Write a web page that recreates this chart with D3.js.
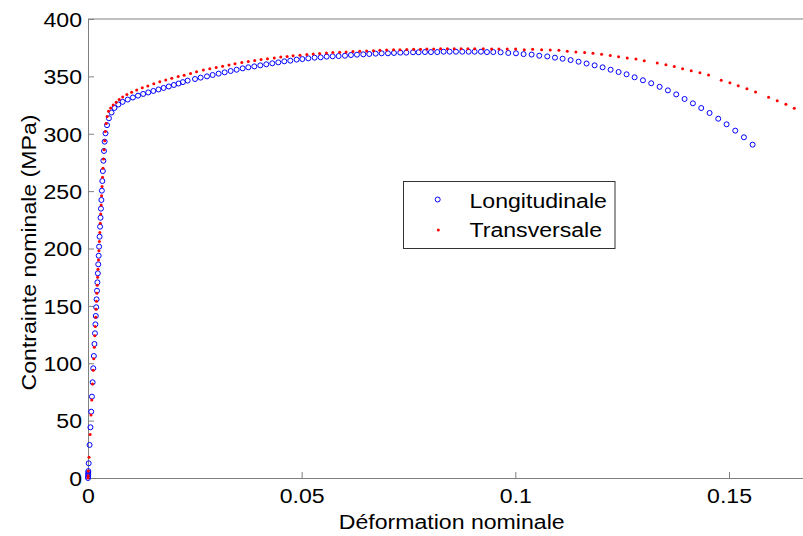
<!DOCTYPE html>
<html>
<head>
<meta charset="utf-8">
<script src="https://cdn.jsdelivr.net/npm/d3@7"></script>
<style>
  html, body { margin: 0; padding: 0; background: #fff; }
  svg { display: block; }
</style>
</head>
<body>
<script>
// ---------- data ----------
const xTicks = [0, 0.05, 0.1, 0.15];
const xTickLabels = ["0", "0.05", "0.1", "0.15"];
const yTicks = [0, 50, 100, 150, 200, 250, 300, 350, 400];
const yTickLabels = ["0", "50", "100", "150", "200", "250", "300", "350", "400"];
const xTitle = "Déformation nominale";
const yTitle = "Contrainte nominale (MPa)";
const seriesNames = ["Longitudinale", "Transversale"];

// Longitudinale (blue circles)
const longStrain = [
  0, 0.00002, 0.00004, 0.00006, 0.00008, 0.00016, 0.00037, 0.00057, 0.00075, 0.00092,
  0.00108, 0.00123, 0.00137, 0.00151, 0.00163, 0.00173, 0.00182, 0.00192, 0.00201, 0.00211,
  0.0022, 0.0023, 0.0024, 0.0025, 0.0026, 0.00271, 0.00283, 0.00293, 0.00303, 0.00313,
  0.00324, 0.00335, 0.00347, 0.0036, 0.00374, 0.0039, 0.0041, 0.00445, 0.0049, 0.0055,
  0.0062, 0.0071, 0.0081, 0.0093, 0.0105, 0.0117, 0.0129, 0.0141, 0.0153, 0.0165,
  0.0177, 0.0189, 0.0201, 0.0212, 0.0222, 0.02332, 0.02504, 0.02636, 0.02784, 0.02917,
  0.03057, 0.03198, 0.03338, 0.03478, 0.03619, 0.03751, 0.03892, 0.04032, 0.04172, 0.04313,
  0.04453, 0.04594, 0.04734, 0.04882, 0.05015, 0.05155, 0.05303, 0.05444, 0.05584, 0.05725,
  0.05865, 0.06013, 0.06153, 0.06294, 0.06442, 0.06582, 0.06731, 0.06871, 0.07019, 0.0716,
  0.07308, 0.07448, 0.07606, 0.07737, 0.07885, 0.08025, 0.08173, 0.08322, 0.08462, 0.0861,
  0.08758, 0.08907, 0.09047, 0.09195, 0.09336, 0.09484, 0.09655, 0.09835, 0.10014, 0.10193,
  0.10381, 0.1056, 0.10747, 0.10927, 0.11106, 0.11293, 0.1148, 0.11667, 0.11855, 0.12042,
  0.12229, 0.12416, 0.12603, 0.12791, 0.12986, 0.1318, 0.13376, 0.1357, 0.13765, 0.1396,
  0.14155, 0.1435, 0.14545, 0.14748, 0.14943, 0.15146, 0.15349, 0.15552
];
const longStress = [
  0, 1.5, 3, 4.5, 6, 12.8, 28.8, 44.2, 57.8, 70.9,
  83.4, 95.6, 106.3, 116.8, 126.1, 133.9, 141.2, 148.8, 155.7, 163.2,
  170.5, 178.4, 186.2, 193.7, 201.6, 210.3, 219.0, 226.8, 234.7, 242.3,
  250.4, 258.8, 267.5, 276.5, 285.0, 293.1, 300.4, 307.5, 313.5, 318.5,
  322.5, 325.5, 327.8, 329.8, 331.6, 333.2, 334.7, 336.0, 337.3, 338.6,
  339.9, 341.2, 342.5, 343.8, 345.0, 346.3, 347.7, 348.9, 350.0, 351.2,
  352.4, 353.5, 354.7, 355.8, 357.0, 357.9, 358.7, 359.6, 360.5, 361.4,
  362.2, 363.1, 363.7, 364.6, 365.1, 365.7, 366.3, 366.6, 367.2, 367.5,
  367.7, 368.0, 368.6, 368.9, 369.2, 369.5, 369.8, 370.1, 370.1, 370.4,
  370.7, 370.7, 371.0, 371.0, 371.2, 371.2, 371.2, 371.5, 371.5, 371.5,
  371.5, 371.5, 371.5, 371.5, 371.2, 371.2, 371.0, 370.4, 370.1, 369.4,
  369.0, 368.0, 367.4, 366.3, 365.4, 364.2, 362.8, 361.2, 359.6, 357.9,
  355.8, 353.8, 351.8, 349.2, 346.6, 344.0, 340.9, 337.8, 334.3, 330.3,
  326.5, 322.4, 318.1, 313.1, 308.2, 302.7, 296.9, 290.5
];

// Transversale (red dots)
const transStrain = [
  0, 0.00003, 0.00008, 0.00024, 0.0005, 0.0007, 0.00088, 0.00106, 0.00122, 0.00135,
  0.00148, 0.0016, 0.0017, 0.0018, 0.00189, 0.00198, 0.00207, 0.00216, 0.00225, 0.00234,
  0.00245, 0.00255, 0.00266, 0.00276, 0.00287, 0.00297, 0.00308, 0.00318, 0.00329, 0.0034,
  0.00351, 0.00363, 0.00376, 0.0039, 0.00406, 0.00425, 0.00448, 0.0048, 0.0053, 0.0059,
  0.0066, 0.0073, 0.0081, 0.0091, 0.0102, 0.0114, 0.0127, 0.014, 0.0154, 0.0168,
  0.0182, 0.0196, 0.0211, 0.0225, 0.024, 0.0254, 0.027, 0.0285, 0.03, 0.0315,
  0.033, 0.0344, 0.036, 0.0375, 0.039, 0.0405, 0.042, 0.0436, 0.0451, 0.0466,
  0.048, 0.0496, 0.0512, 0.0527, 0.0542, 0.0558, 0.0573, 0.0589, 0.0604, 0.062,
  0.0636, 0.0652, 0.0668, 0.0683, 0.0699, 0.0715, 0.073, 0.0746, 0.0762, 0.0778,
  0.0793, 0.0809, 0.0825, 0.0841, 0.0857, 0.0873, 0.0889, 0.0905, 0.0925, 0.09445,
  0.09616, 0.09811, 0.10006, 0.10209, 0.10404, 0.10615, 0.10817, 0.1102, 0.11215, 0.11418,
  0.11621, 0.11816, 0.12018, 0.12221, 0.12416, 0.12619, 0.12822, 0.13017, 0.13321, 0.13524,
  0.13719, 0.13914, 0.14116, 0.14319, 0.14522, 0.14818, 0.15021, 0.15216, 0.15419, 0.15622,
  0.15926, 0.16128, 0.16331, 0.16527
];
const transStress = [
  0, 2, 6, 18, 38, 55, 68, 82, 94, 104,
  114, 124, 132, 140, 147, 154, 161, 168, 175, 182,
  190, 198, 206, 214, 222, 230, 238, 246, 254, 262,
  270, 278, 286, 294, 302, 309, 315, 319.5, 322.5, 325,
  327.5, 329.8, 332, 334.2, 336.2, 338.2, 340, 341.7, 343.5, 345.3,
  346.8, 348.3, 349.8, 351, 352.5, 354, 355.5, 356.6, 357.8, 358.9,
  360, 361, 362, 363, 363.9, 364.7, 365.4, 366.1, 366.8, 367.4,
  368, 368.5, 369, 369.5, 369.9, 370.3, 370.7, 371.0, 371.3, 371.6,
  371.9, 372.2, 372.4, 372.7, 372.9, 373.1, 373.3, 373.4, 373.6, 373.7,
  373.8, 373.9, 374.0, 374.0, 374.1, 374.1, 374.1, 374.0, 374.0, 373.9,
  373.9, 373.9, 373.9, 373.3, 373.6, 373.3, 373.0, 372.7, 371.8, 371.2,
  370.7, 370.1, 369.2, 368.3, 367.2, 366.0, 365.1, 363.7, 361.7, 360.2,
  358.5, 356.7, 355.0, 353.2, 351.2, 346.6, 344.5, 341.9, 339.3, 336.4,
  331.7, 328.8, 325.6, 322.2
];

// ---------- layout ----------
const W = 803, H = 536;
const plotLeft = 88, plotTop = 19, plotBottom = 478;
const font = "'Liberation Sans', Arial, Helvetica, sans-serif";
const fs = 21, sx = 1.1;
const axisColor = "#808080";

const x = d3.scaleLinear().domain([0, 0.18]).range([plotLeft, plotLeft + 0.18 / 0.05 * 213.67]);
const y = d3.scaleLinear().domain([0, 400]).range([plotBottom, plotTop]);

const svg = d3.select("body").append("svg")
  .attr("width", W).attr("height", H)
  .attr("viewBox", `0 0 ${W} ${H}`);
svg.append("rect").attr("width", W).attr("height", H).attr("fill", "#fff");

// box top line
svg.append("line")
  .attr("x1", x(0)).attr("x2", x.range()[1])
  .attr("y1", y(400)).attr("y2", y(400))
  .attr("stroke", axisColor).attr("stroke-width", 1);

// x axis
const gx = svg.append("g").attr("transform", `translate(0,${plotBottom})`)
  .call(d3.axisBottom(x).tickValues(xTicks).tickSize(-6).tickSizeOuter(0)
    .tickFormat((d, i) => xTickLabels[i]));
gx.select(".domain").attr("stroke", axisColor);
gx.selectAll(".tick line").attr("stroke", axisColor);
gx.selectAll(".tick text")
  .attr("y", 25).attr("dy", 0)
  .attr("fill", "#000").attr("font-family", font).attr("font-size", fs)
  .attr("transform", `scale(${sx},1)`);

// y axis
const gy = svg.append("g").attr("transform", `translate(${plotLeft},0)`)
  .call(d3.axisLeft(y).tickValues(yTicks).tickSize(-6).tickSizeOuter(0)
    .tickFormat((d, i) => yTickLabels[i]));
gy.select(".domain").attr("stroke", axisColor);
gy.selectAll(".tick line").attr("stroke", axisColor);
gy.selectAll(".tick text")
  .attr("x", -6 / sx).attr("dy", "0.35em")
  .attr("fill", "#000").attr("font-family", font).attr("font-size", fs)
  .attr("transform", `scale(${sx},1)`);

// titles
function label(txt, px, py, anchor, rot) {
  svg.append("text")
    .attr("transform", `translate(${px},${py}) rotate(${rot}) scale(${sx},1)`)
    .attr("text-anchor", anchor)
    .attr("font-family", font).attr("font-size", fs).attr("fill", "#000")
    .text(txt);
}
label(xTitle, 451.7, 529, "middle", 0);
label(yTitle, 36, (plotTop + plotBottom) / 2 + 4, "middle", -90);

// data
const longData = longStrain.map((s, i) => [s, longStress[i]]);
const transData = transStrain.map((s, i) => [s, transStress[i]]);

svg.append("g").selectAll("circle").data(longData).join("circle")
  .attr("cx", d => x(d[0])).attr("cy", d => y(d[1])).attr("r", 2.5)
  .attr("fill", "none").attr("stroke", "#0000ff").attr("stroke-width", 1);

svg.append("g").selectAll("circle").data(transData).join("circle")
  .attr("cx", d => x(d[0])).attr("cy", d => y(d[1])).attr("r", 1.5)
  .attr("fill", "#ff0000");

// legend
const lg = svg.append("g");
lg.append("rect").attr("x", 403.5).attr("y", 181.5).attr("width", 211.5).attr("height", 67)
  .attr("fill", "#fff").attr("stroke", "#333").attr("stroke-width", 1);
lg.append("circle").attr("cx", 437.7).attr("cy", 199.5).attr("r", 2.5)
  .attr("fill", "none").attr("stroke", "#0000ff").attr("stroke-width", 1);
lg.append("circle").attr("cx", 438.3).attr("cy", 230).attr("r", 1.5).attr("fill", "#ff0000");
[[seriesNames[0], 207.5], [seriesNames[1], 236.5]].forEach(([t, by]) => {
  lg.append("text")
    .attr("transform", `translate(469.5,${by}) scale(${sx},1)`)
    .attr("font-family", font).attr("font-size", fs).attr("fill", "#000")
    .text(t);
});
</script>
</body>
</html>
